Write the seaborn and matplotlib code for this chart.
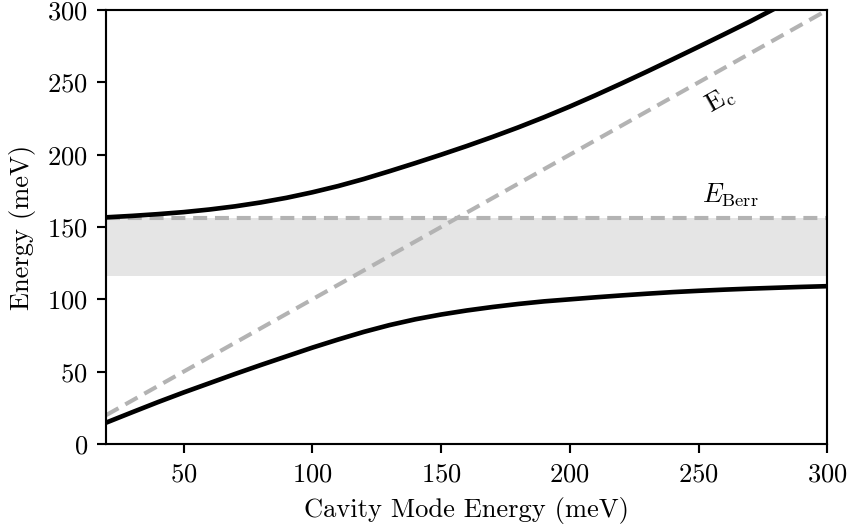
"""
Cavity polariton dispersion: upper / lower branches vs cavity mode energy.
"""

import matplotlib
matplotlib.use("Agg")
import matplotlib.pyplot as plt
import seaborn as sns
import pandas as pd

# -----------------------------
# Data
# -----------------------------
cavity_lower = [20, 30, 40, 50, 60, 70, 80, 90, 100, 110, 120, 130, 140, 150, 160,
                170, 180, 190, 200, 210, 220, 230, 240, 250, 260, 270, 280, 290, 300]
lower_branch = [14.8, 21.9, 28.9, 35.6, 42.0, 48.4, 54.6, 60.6, 66.6, 72.2, 77.5, 82.2,
                86.2, 89.5, 92.3, 94.7, 96.8, 98.6, 100.0, 101.4, 102.7, 103.9, 105.0,
                105.9, 106.7, 107.4, 108.0, 108.6, 109.1]

cavity_upper = [20, 30, 40, 50, 60, 70, 80, 90, 100, 110, 120, 130, 140, 150, 160,
                170, 180, 190, 200, 210, 220, 230, 240, 250, 260, 270, 280]
upper_branch = [156.7, 157.7, 158.9, 160.3, 162.1, 164.3, 167.0, 170.2, 174.0, 178.3,
                183.2, 188.6, 194.2, 200.0, 206.0, 212.3, 218.9, 225.9, 233.3, 241.1,
                249.2, 257.5, 266.0, 274.6, 283.3, 292.1, 301.4]

cavity_line = [20, 300]
cavity_energy = [20, 300]

e_berr = 156.0
band_low, band_high = 116.4, 156.0

# -----------------------------
# Style
# -----------------------------
sns.set_style("ticks")
plt.rcParams["font.family"] = "serif"
plt.rcParams["font.serif"] = ["cmr10"]
plt.rcParams["mathtext.fontset"] = "cm"
plt.rcParams["axes.formatter.use_mathtext"] = True
plt.rcParams["font.size"] = 10
plt.rcParams["axes.linewidth"] = 0.8
plt.rcParams["xtick.major.width"] = 0.8
plt.rcParams["ytick.major.width"] = 0.8
plt.rcParams["xtick.major.size"] = 3.5
plt.rcParams["ytick.major.size"] = 3.5
plt.rcParams["axes.edgecolor"] = "black"
plt.rcParams["xtick.color"] = "black"
plt.rcParams["ytick.color"] = "black"
plt.rcParams["text.color"] = "black"
plt.rcParams["axes.labelcolor"] = "black"

GREY = "#b3b3b3"
BAND = "#e5e5e5"
DASH = (3.4, 1.9)

fig = plt.figure(figsize=(849 / 191, 530 / 191), dpi=191)
ax = fig.add_axes([0.1252, 0.1623, 0.9744 - 0.1252, 0.981 - 0.1623])

# band and bare energies
ax.axhspan(band_low, band_high, color=BAND, lw=0, zorder=0)
ax.plot([cavity_line[0], cavity_line[-1]], [e_berr, e_berr], color=GREY, lw=1.55,
        dashes=DASH, zorder=1)
sns.lineplot(x=cavity_line, y=cavity_energy, ax=ax, color=GREY, lw=1.55,
             dashes=False, zorder=1).lines[-1].set_dashes(DASH)

# polariton branches
lower = pd.DataFrame({"x": cavity_lower, "y": lower_branch})
upper = pd.DataFrame({"x": cavity_upper, "y": upper_branch})
sns.lineplot(data=lower, x="x", y="y", ax=ax, color="black", lw=1.75, zorder=3)
sns.lineplot(data=upper, x="x", y="y", ax=ax, color="black", lw=1.75, zorder=3)

# labels on lines
ax.text(258.3, 237.9, r"$\mathrm{E_c}$", rotation=29.4, ha="center", va="center")
ax.text(262.3, 162.5, r"$E_{\rm Berr}$", ha="center", va="bottom")

ax.set_xlim(20, 300)
ax.set_ylim(0, 300)
ax.set_xticks([50, 100, 150, 200, 250, 300])
ax.set_yticks([0, 50, 100, 150, 200, 250, 300])
ax.set_xlabel("Cavity Mode Energy (meV)")
ax.set_ylabel("Energy (meV)")

fig.savefig("out.png", dpi=191)
plt.close(fig)
